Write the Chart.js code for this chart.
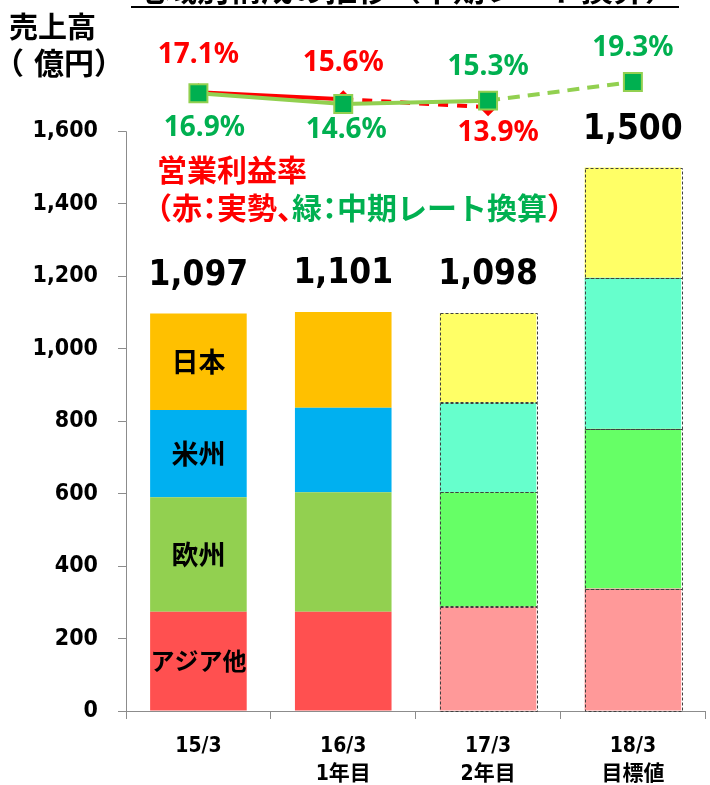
<!DOCTYPE html>
<html>
<head>
<meta charset="utf-8">
<script src="https://cdn.jsdelivr.net/npm/chart.js@4.4.1/dist/chart.umd.min.js"></script>
<style>
  html, body { margin: 0; padding: 0; background: #fff; overflow: hidden; }
  canvas { display: block; }
</style>
</head>
<body>
<canvas id="salesChart" width="720" height="785"></canvas>
<script>
const categories = [["15/3", ""], ["16/3", "1年目"], ["17/3", "2年目"], ["18/3", "目標値"]];
const asiaSales = [274, 274, 288, 338];
const europeSales = [316, 330, 316, 441];
const americasSales = [241, 233, 247, 417];
const japanSales = [266, 264, 247, 304];
const totalSales = [1097, 1101, 1098, 1500];
const marginActual = [17.1, 15.6, 13.9, null];
const marginPlan = [16.9, 14.6, 15.3, 19.3];
const yTicks = [0, 200, 400, 600, 800, 1000, 1200, 1400, 1600];
const isForecast = [false, false, true, true];

const NUM_FONT = "'DejaVu Sans Condensed', 'Noto Sans CJK JP', sans-serif";
const JP_FONT = "'Noto Sans CJK JP', sans-serif";
const PCT_FONT = "'Noto Sans', sans-serif";
const RED = "#FF0000";
const GREEN = "#00B050";

const pick = (actual, plan) => isForecast.map(f => f ? plan : actual);

// label offsets (px) for the margin labels, relative to each point
const actualLabelOffset = [[0, -37], [0, -36], [10, 26]];
const planLabelOffset = [[6, 35], [3, 26], [0, -34], [0, -34]];

function drawText(ctx, str, x, y, font, color, align) {
  ctx.font = font;
  ctx.fillStyle = color;
  ctx.textAlign = align || "center";
  ctx.textBaseline = "middle";
  ctx.fillText(str, x, y);
}

// full-width punctuation gets half advance, like the original layout
function drawRich(ctx, parts, x, y, size) {
  ctx.font = `bold ${size}px ${JP_FONT}`;
  ctx.textBaseline = "middle";
  ctx.textAlign = "left";
  for (const [str, color] of parts) {
    ctx.fillStyle = color;
    for (const ch of str) {
      const w = ctx.measureText(ch).width;
      let shift = 0, adv = w;
      if (ch === "（") { shift = -w / 2; adv = w / 2; }
      else if (ch === "）" || ch === "、") { adv = w / 2; }
      else if (ch === "：") { shift = -w / 4; adv = w / 2; }
      ctx.fillText(ch, x + shift, y);
      x += adv;
    }
  }
}

const overlay = {
  id: "overlay",
  afterDatasetsDraw(chart) {
    const ctx = chart.ctx;
    const yScale = chart.scales.y;
    const area = chart.chartArea;
    ctx.save();

    // y axis line, only up to the last tick
    ctx.strokeStyle = "#8c8c8c";
    ctx.lineWidth = 1;
    ctx.beginPath();
    ctx.moveTo(area.left + 0.5, yScale.getPixelForValue(0));
    ctx.lineTo(area.left + 0.5, yScale.getPixelForValue(yTicks[yTicks.length - 1]));
    ctx.stroke();

    // dashed outline on forecast segments
    ctx.strokeStyle = "#404040";
    ctx.setLineDash([3, 2]);
    for (let d = 0; d < 4; d++) {
      chart.getDatasetMeta(d).data.forEach((bar, i) => {
        if (!isForecast[i]) return;
        const { x, y, base, width } = bar.getProps(["x", "y", "base", "width"], true);
        ctx.strokeRect(Math.round(x - width / 2) + 0.5, Math.round(y) + 0.5, Math.round(width), Math.round(base - y));
      });
    }
    ctx.setLineDash([]);

    // region names in the first bar
    const regionNames = ["アジア他", "欧州", "米州", "日本"];
    regionNames.forEach((name, d) => {
      const bar = chart.getDatasetMeta(d).data[0];
      const size = d === 0 ? 24 : 27;
      drawText(ctx, name, bar.x, (bar.y + bar.base) / 2, `bold ${size}px ${JP_FONT}`, "#000");
    });

    // totals above the bars
    chart.getDatasetMeta(3).data.forEach((bar, i) => {
      drawText(ctx, totalSales[i].toLocaleString("en-US"), bar.x, bar.y - 38, `bold 35px ${NUM_FONT}`, "#000");
    });

    // margin labels
    chart.getDatasetMeta(4).data.forEach((pt, i) => {
      if (marginActual[i] == null) return;
      const [dx, dy] = actualLabelOffset[i];
      drawText(ctx, marginActual[i].toFixed(1) + "%", pt.x + dx, pt.y + dy, `bold 28px ${PCT_FONT}`, RED);
    });
    chart.getDatasetMeta(5).data.forEach((pt, i) => {
      const [dx, dy] = planLabelOffset[i];
      drawText(ctx, marginPlan[i].toFixed(1) + "%", pt.x + dx, pt.y + dy, `bold 28px ${PCT_FONT}`, GREEN);
    });

    // title (cut off at the top edge) and its underline
    ctx.font = `bold 32px ${JP_FONT}`;
    ctx.fillStyle = "#000";
    ctx.textAlign = "center";
    ctx.textBaseline = "alphabetic";
    ctx.fillText("地域別構成の推移（中期レート換算）", 405, 1);
    ctx.fillRect(131, 6, 548, 2);

    // axis unit
    drawText(ctx, "売上高", 9, 27, `bold 29px ${JP_FONT}`, "#000", "left");
    drawText(ctx, "（", -6, 63, `bold 30px ${JP_FONT}`, "#000", "left");
    drawText(ctx, "億円", 34, 63, `bold 30px ${JP_FONT}`, "#000", "left");
    drawText(ctx, "）", 94, 63, `bold 30px ${JP_FONT}`, "#000", "left");

    // margin legend
    drawText(ctx, "営業利益率", 157, 170, `bold 30px ${JP_FONT}`, RED, "left");
    drawRich(ctx, [["（赤：実勢、", RED], ["緑：中期レート換算", GREEN], ["）", RED]], 157, 208, 30);

    ctx.restore();
  }
};

new Chart(document.getElementById("salesChart").getContext("2d"), {
  type: "bar",
  data: {
    labels: categories,
    datasets: [
      { label: "アジア他", data: asiaSales, backgroundColor: pick("#FF5050", "#FF9999"), order: 3 },
      { label: "欧州", data: europeSales, backgroundColor: pick("#92D050", "#66FF66"), order: 3 },
      { label: "米州", data: americasSales, backgroundColor: pick("#00B0F0", "#66FFCC"), order: 3 },
      { label: "日本", data: japanSales, backgroundColor: pick("#FFC000", "#FFFF66"), order: 3 },
      {
        type: "line", label: "実勢", data: marginActual, yAxisID: "y1", order: 2,
        borderColor: RED, borderWidth: 4, pointStyle: "rectRot", pointRadius: 9,
        pointBackgroundColor: RED, pointBorderColor: RED, pointBorderWidth: 0,
        segment: { borderDash: c => c.p0DataIndex >= 1 ? [10, 9] : undefined }
      },
      {
        type: "line", label: "中期レート換算", data: marginPlan, yAxisID: "y1", order: 1,
        borderColor: "#92D050", borderWidth: 4, pointStyle: "rect", pointRadius: 12.7,
        pointBackgroundColor: GREEN, pointBorderColor: "#92D050", pointBorderWidth: 2,
        segment: { borderDash: c => c.p0DataIndex >= 2 ? [12, 8] : undefined }
      }
    ]
  },
  options: {
    responsive: false,
    animation: false,
    layout: { padding: { top: 30, right: 6, left: 0, bottom: 0 } },
    datasets: { bar: { categoryPercentage: 1, barPercentage: 0.667, borderWidth: 0 } },
    plugins: { legend: { display: false }, tooltip: { enabled: false } },
    scales: {
      x: {
        stacked: true,
        grid: { offset: true, drawOnChartArea: false, color: "#8c8c8c", tickLength: 8 },
        border: { color: "#8c8c8c" },
        ticks: { color: "#000", padding: 13, font: { family: NUM_FONT, size: 21, weight: "bold", lineHeight: 1.35 } },
        afterFit: s => { s.height = 74; }
      },
      y: {
        stacked: true,
        min: 0,
        max: 1869,
        grid: { drawOnChartArea: false, color: "#8c8c8c", tickLength: 8 },
        border: { display: false },
        ticks: {
          color: "#000", padding: 20,
          font: { family: NUM_FONT, size: 23, weight: "bold" },
          callback: v => v.toLocaleString("en-US")
        },
        afterBuildTicks: s => { s.ticks = yTicks.map(v => ({ value: v })); },
        afterFit: s => { s.width = 126; }
      },
      y1: { display: false, min: -115.3, max: 29.6 }
    }
  },
  plugins: [overlay]
});
</script>
</body>
</html>
